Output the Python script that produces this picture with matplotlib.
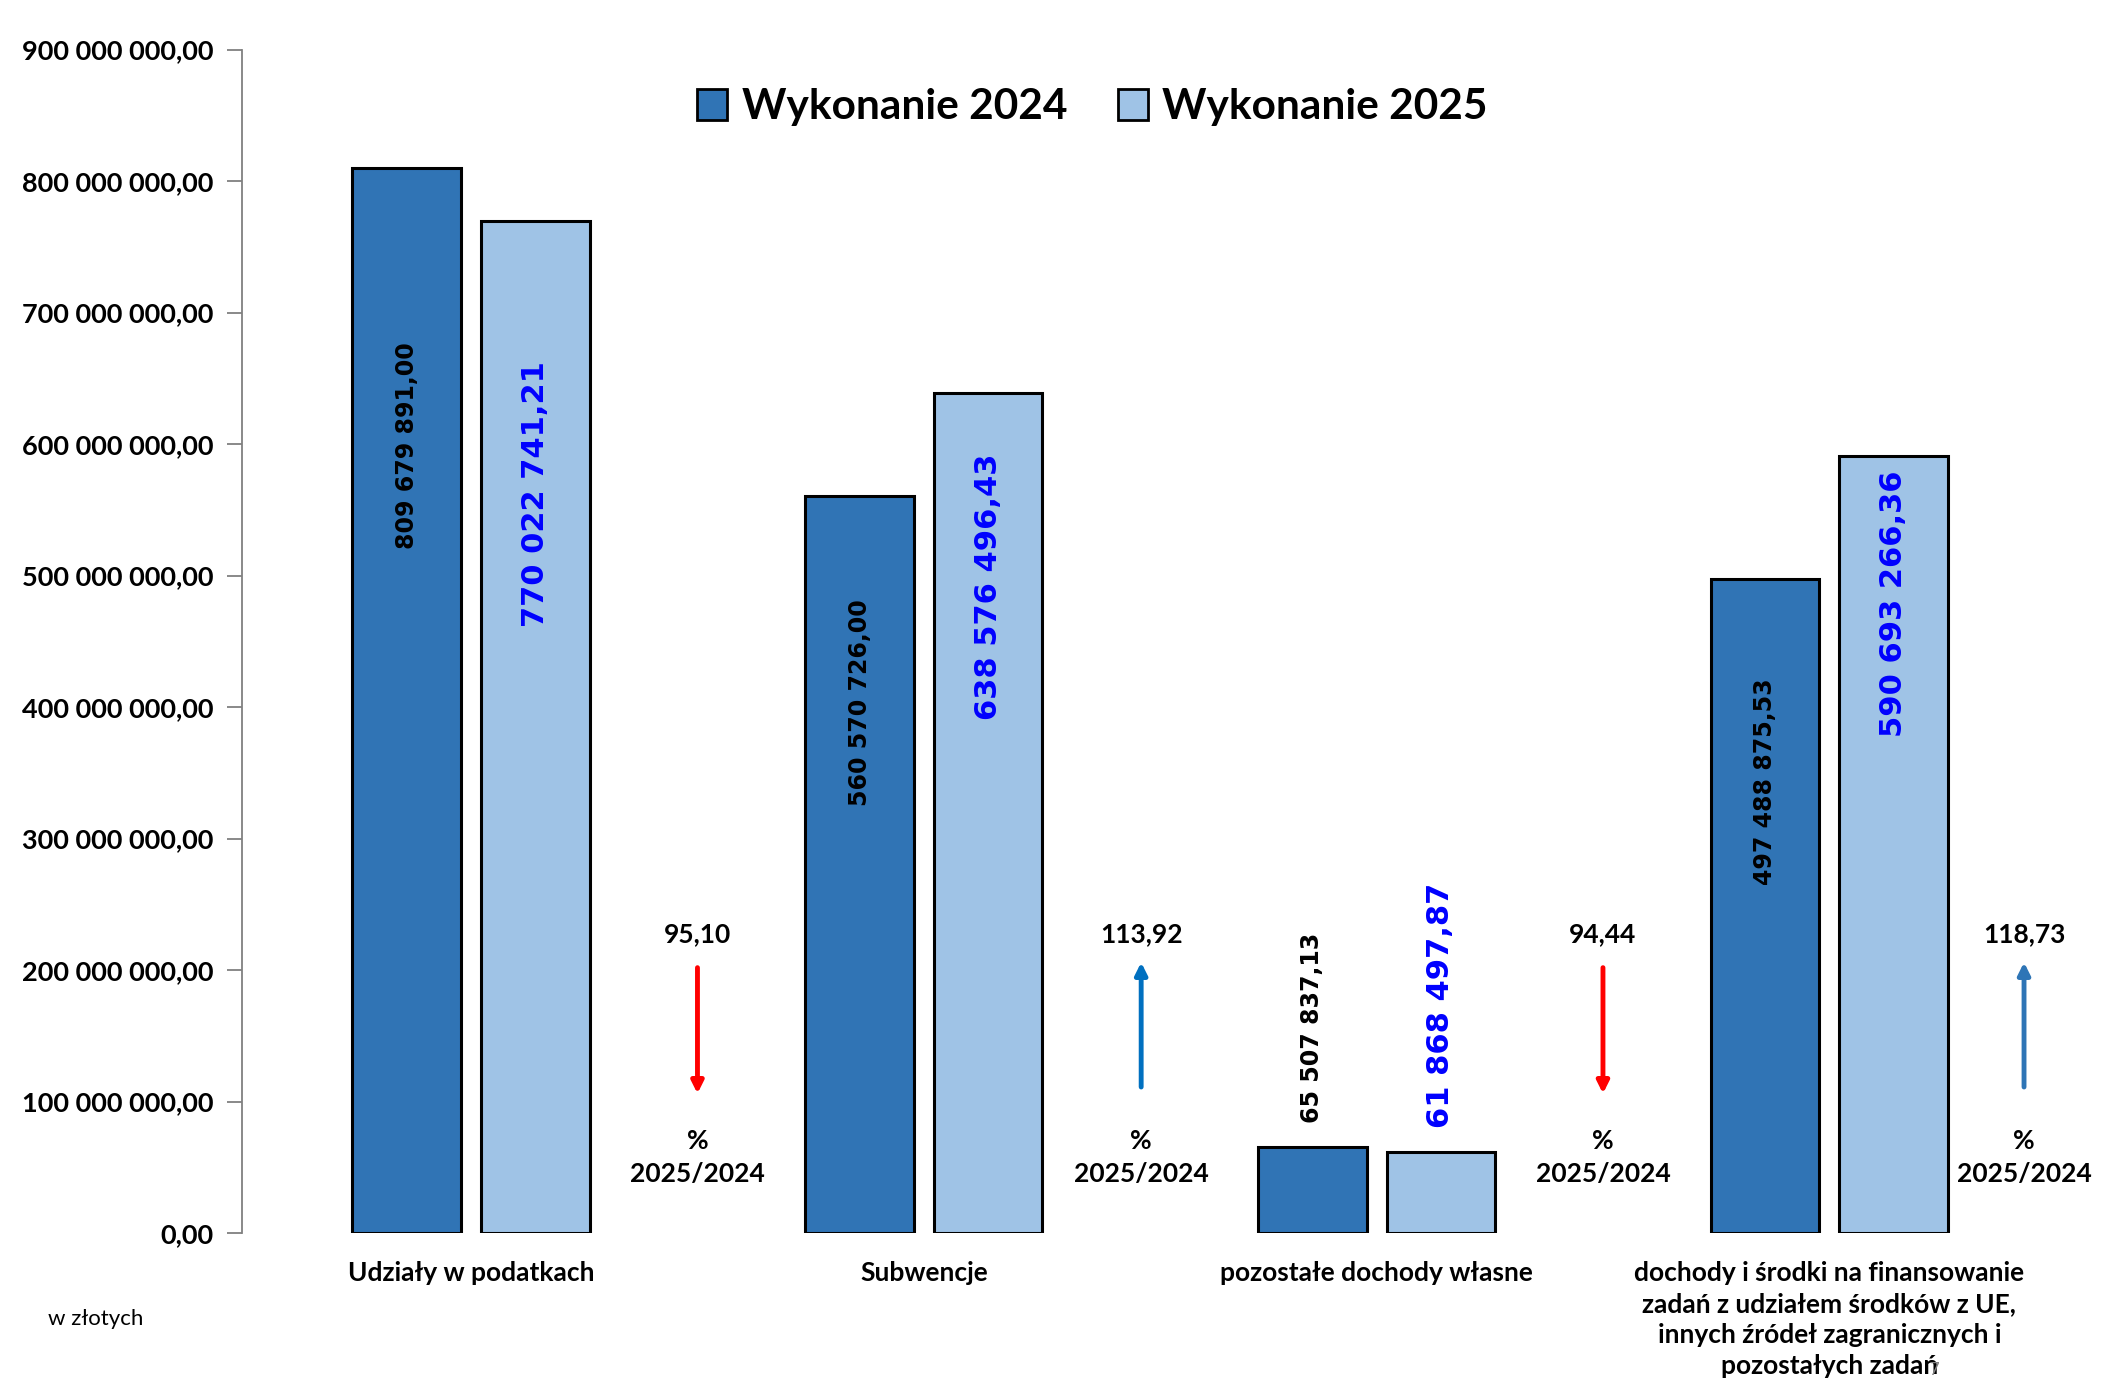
import matplotlib
matplotlib.use("Agg")
import matplotlib.pyplot as plt
from matplotlib.patches import Patch
import numpy as np

# values in PLN
categories = [
    "Udziały w podatkach",
    "Subwencje",
    "pozostałe dochody własne",
    "dochody i środki na finansowanie\nzadań z udziałem środków z UE,\ninnych źródeł zagranicznych i\npozostałych zadań",
]
wyk_2024 = [809679891.00, 560570726.00, 65507837.13, 497488875.53]
wyk_2025 = [770022741.21, 638576496.43, 61868497.87, 590693266.36]
pct = [95.10, 113.92, 94.44, 118.73]
yticks = np.arange(0, 900_000_001, 100_000_000)

DARK = "#3074B5"
LIGHT = "#9FC3E6"
CAL = ["Lato", "DejaVu Sans"]

# where the rotated value labels sit (share of bar height), big bars only
frac_2024 = [0.74, 0.72, None, 0.69]
frac_2025 = [0.73, 0.77, None, 0.81]


def fmt_pl(v):
    s = f"{v:,.2f}"
    return s.replace(",", " ").replace(".", ",")


fig = plt.figure(figsize=(21.01, 13.94), dpi=100)
ax = fig.add_axes([0.1154, 0.1154, 0.8846, 0.849])

x = np.arange(len(categories))
off, w = 0.142, 0.24
ax.bar(x - off, wyk_2024, w, color=DARK, edgecolor="black", linewidth=2.2)
ax.bar(x + off, wyk_2025, w, color=LIGHT, edgecolor="black", linewidth=2.2)

# value labels, rotated
for i in range(len(categories)):
    for val, fr, dx, col, fs in ((wyk_2024[i], frac_2024[i], -off, "black", 17),
                                 (wyk_2025[i], frac_2025[i], off, "#0000FF", 22)):
        if fr is not None:
            ax.text(x[i] + dx, val * fr, fmt_pl(val), rotation=90, ha="center", va="center",
                    color=col, fontsize=fs, fontweight="bold", family="DejaVu Sans")
        else:
            ax.text(x[i] + dx, val + 18_000_000, fmt_pl(val), rotation=90, ha="center", va="bottom",
                    color=col, fontsize=fs, fontweight="bold", family="DejaVu Sans")

# percentage change markers between groups
pct_x = [0.5, 1.48, 2.5, 3.43]
for i, p in enumerate(pct):
    px = pct_x[i]
    ax.text(px, 227_000_000, f"{p:.2f}".replace(".", ","), ha="center", va="center",
            fontsize=19, fontweight="bold", family=CAL)
    ax.text(px, 70_000_000, "%", ha="center", va="center", fontsize=19, fontweight="bold", family=CAL)
    ax.text(px, 45_000_000, "2025/2024", ha="center", va="center", fontsize=19, fontweight="bold", family=CAL)
    if p < 100:
        ax.annotate("", xy=(px, 104_000_000), xytext=(px, 204_000_000),
                    arrowprops=dict(arrowstyle="-|>,head_width=0.35,head_length=0.7", color="#FF0000", lw=3.5))
    else:
        c = "#0070C0" if i == 1 else "#2E75B6"
        ax.annotate("", xy=(px, 208_000_000), xytext=(px, 109_000_000),
                    arrowprops=dict(arrowstyle="-|>,head_width=0.35,head_length=0.7", color=c, lw=3.5))

ax.set_xlim(-0.505, 3.6)
ax.set_ylim(0, 900_000_000)
ax.set_yticks(yticks)
ax.set_yticklabels([fmt_pl(v) for v in yticks], fontsize=19.5, fontweight="bold", family=CAL)
ax.tick_params(axis="y", direction="out", length=11, width=1.3, color="#808080", pad=10)
ax.set_xticks(x)
ax.set_xticklabels(categories, fontsize=19, fontweight="bold", family=CAL, linespacing=1.35, va="top")
ax.tick_params(axis="x", length=0, pad=20)
for s in ("top", "right", "bottom"):
    ax.spines[s].set_visible(False)
ax.spines["left"].set_color("#808080")
ax.spines["left"].set_linewidth(1.3)

handles = [Patch(facecolor=DARK, edgecolor="black", linewidth=2, label="Wykonanie 2024"),
           Patch(facecolor=LIGHT, edgecolor="black", linewidth=2, label="Wykonanie 2025")]
fig.legend(handles=handles, loc="center", bbox_to_anchor=(0.52, 0.923), ncol=2, frameon=False,
           handlelength=0.7, handleheight=0.75, handletextpad=0.35, columnspacing=1.2,
           prop=dict(family=CAL, weight="bold", size=30.5))

fig.text(36 / 1568, 1 - 984 / 1040, "w złotych", fontsize=16, family=CAL, va="center")
fig.text(1440 / 1568, 1 - 1022 / 1040, "7", fontsize=12, family=CAL, color="#808080", va="center")

fig.savefig("out.png", dpi=100)
